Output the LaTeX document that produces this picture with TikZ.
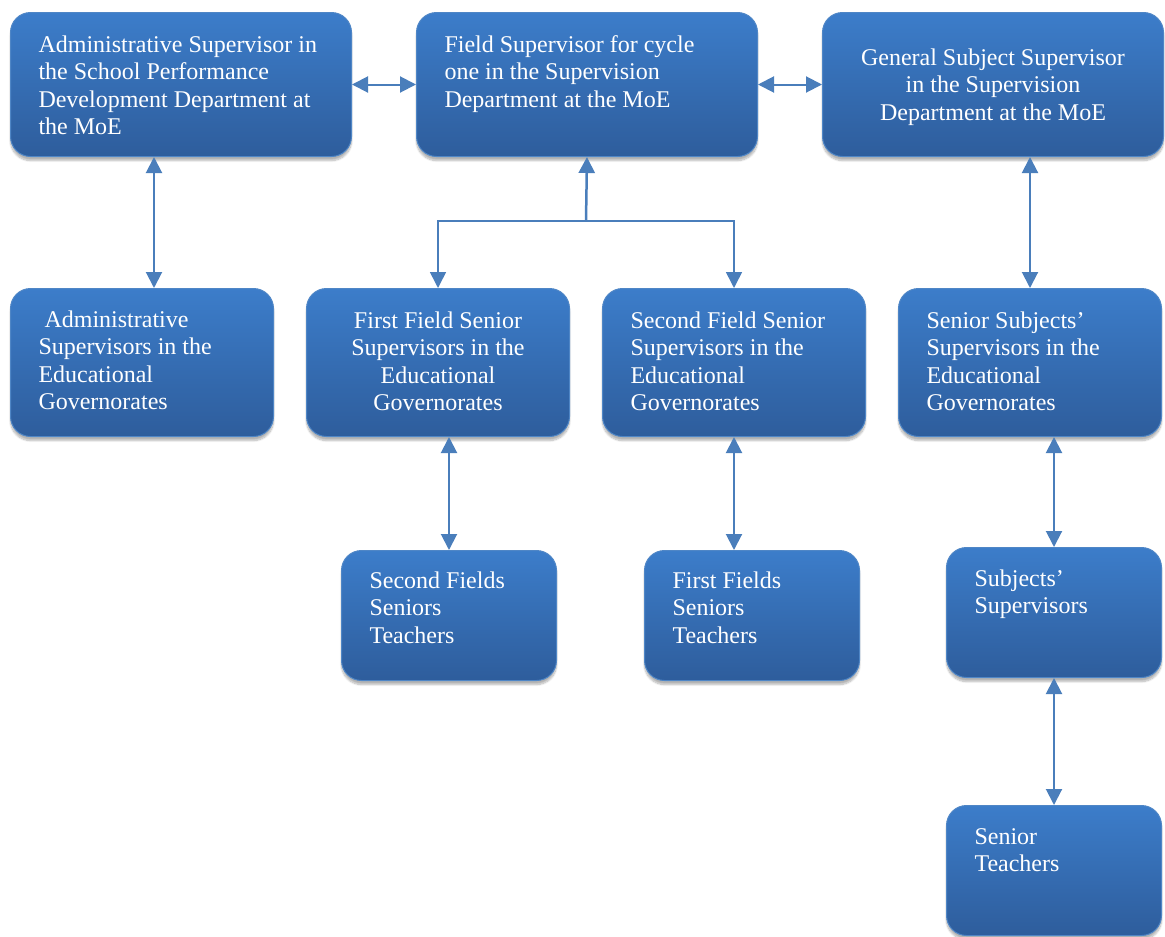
\documentclass[tikz,border=0pt]{standalone}
\usepackage{fontspec}
\setmainfont{Liberation Serif}
\usetikzlibrary{arrows.meta,shadows.blur}

\definecolor{boxtop}{HTML}{3C7DCA}
\definecolor{boxbot}{HTML}{2E5D9C}
\definecolor{boxrim}{HTML}{4F86C6}
\definecolor{link}{HTML}{4A7EBB}

% text block inside a box: #1 text width, #2 box height, #3 first-baseline offset,
% #4 alignment, #5 lines
\newcommand\boxlines[5]{\parbox[c][#2][t]{#1}{#4\rule{0pt}{#3}#5}}

\tikzset{
  tip/.style={Triangle[length=16pt,width=16pt]},
  orgbox/.style={draw=boxrim, line width=1pt, rounded corners=20pt,
    top color=boxtop, bottom color=boxbot, text=white, inner sep=0pt,
    anchor=north west, font=\fontsize{24}{27.4}\selectfont,
    blur shadow={shadow xshift=0pt, shadow yshift=-4pt, shadow blur steps=8, shadow opacity=30}},
  biarrow/.style={draw=link, line width=2pt, {Triangle[length=16pt,width=16pt]}-{Triangle[length=16pt,width=16pt]}},
  uparrow/.style={draw=link, line width=2.5pt, -{Triangle[length=16pt,width=16pt]}},
  branch/.style={draw=link, line width=1.6pt, line join=miter, {Triangle[length=16pt,width=16pt]}-{Triangle[length=16pt,width=16pt]}},
}

\begin{document}
\begin{tikzpicture}[x=1pt,y=-1pt]
\useasboundingbox (0,0) rectangle (1165,937);

% top row
\node[orgbox, minimum width=341pt, minimum height=144pt] (a1) at (10,12)
  {\boxlines{285pt}{144pt}{40pt}{\raggedright}{Administrative Supervisor in\\the School Performance\\Development Department at\\the MoE}};
\node[orgbox, minimum width=341pt, minimum height=144pt] (f1) at (416,12)
  {\boxlines{285pt}{144pt}{40pt}{\raggedright}{Field Supervisor for cycle\\one in the Supervision\\Department at the MoE}};
\node[orgbox, minimum width=341pt, minimum height=144pt] (g1) at (822,12)
  {\boxlines{300pt}{144pt}{53pt}{\centering}{General Subject Supervisor\\in the Supervision\\Department at the MoE}};

% second row
\node[orgbox, minimum width=263pt, minimum height=148pt] (a2) at (10,288)
  {\boxlines{207pt}{148pt}{39pt}{\raggedright}{\hspace*{6pt}Administrative\\Supervisors in the\\Educational\\Governorates}};
\node[orgbox, minimum width=263pt, minimum height=148pt] (f2) at (306,288)
  {\boxlines{230pt}{148pt}{40pt}{\centering}{First Field Senior\\Supervisors in the\\Educational\\Governorates}};
\node[orgbox, minimum width=263pt, minimum height=148pt] (s2) at (602,288)
  {\boxlines{207pt}{148pt}{40pt}{\raggedright}{Second Field Senior\\Supervisors in the\\Educational\\Governorates}};
\node[orgbox, minimum width=263pt, minimum height=148pt] (g2) at (898,288)
  {\boxlines{207pt}{148pt}{40pt}{\raggedright}{Senior Subjects'\\Supervisors in the\\Educational\\Governorates}};

% lower rows
\node[orgbox, minimum width=215pt, minimum height=130pt] (t3) at (341,550)
  {\boxlines{159pt}{130pt}{38pt}{\raggedright}{Second Fields\\Seniors\\Teachers}};
\node[orgbox, minimum width=215pt, minimum height=130pt] (t4) at (644,550)
  {\boxlines{159pt}{130pt}{38pt}{\raggedright}{First Fields\\Seniors\\Teachers}};
\node[orgbox, minimum width=215pt, minimum height=130pt] (g3) at (946,547)
  {\boxlines{159pt}{130pt}{39pt}{\raggedright}{Subjects'\\Supervisors}};
\node[orgbox, minimum width=215pt, minimum height=130pt] (g4) at (946,805)
  {\boxlines{159pt}{130pt}{39pt}{\raggedright}{Senior\\Teachers}};

% connectors
\coordinate (ax) at (154,0);
\coordinate (j) at (586,221);

\draw[biarrow] (a1.east) -- (f1.west);
\draw[biarrow] (f1.east) -- (g1.west);
\draw[biarrow] (a1.south -| ax) -- (a2.north -| ax);
\draw[uparrow] (j) -- (f1.south);
\draw[branch] (f2.north) |- (j) -| (s2.north);
\draw[biarrow] (g1.south -| g2.north) -- (g2.north);
\draw[biarrow] (f2.south -| t3.north) -- (t3.north);
\draw[biarrow] (s2.south) -- (s2.south |- t4.north);
\draw[biarrow] (g2.south -| g3.north) -- (g3.north);
\draw[biarrow] (g3.south) -- (g4.north);
\end{tikzpicture}
\end{document}
